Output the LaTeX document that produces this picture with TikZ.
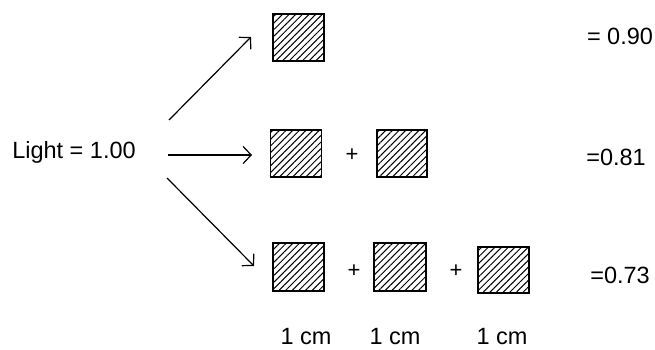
\documentclass[tikz,border=0pt]{standalone}
\usepackage{fontspec}
\setmainfont{Liberation Sans}
\usetikzlibrary{arrows.meta,patterns.meta}
\begin{document}
\begin{tikzpicture}[x=1pt,y=-1pt,
  lbl/.style={inner sep=0pt,font=\fontsize{23.5}{26}\selectfont},
  plus/.style={inner sep=0pt,font=\fontsize{22}{24}\selectfont},
  slab/.style={draw,line width=1.7pt,inner sep=0pt,minimum width=51pt,minimum height=47pt,
    pattern={Lines[angle=45,distance=4.7pt,line width=1pt]}},
  arr/.style={line width=1.2pt,-{Straight Barb[length=8pt,width=17pt,line width=1.2pt]}}]
\useasboundingbox (0,0) rectangle (655,350);

% incoming light
\node[lbl] (light) at (74,152) {Light = 1.00};

% one slab
\node[slab] (b11) at (298.5,37.5) {};
\node[lbl] (v1) at (620,36) {= 0.90};

% two slabs
\node[slab] (b21) at (296,153.5) {};
\node[plus] (p21) at (352,155) {+};
\node[slab,minimum width=50pt] (b22) at (402,153.5) {};
\node[lbl] (v2) at (616,157) {=0.81};

% three slabs
\node[slab,minimum height=48pt] (b31) at (298.5,267) {};
\node[plus] (p31) at (354,271) {+};
\node[slab,minimum width=52pt,minimum height=48pt] (b32) at (400,267) {};
\node[plus] (p32) at (456,271) {+};
\node[slab,minimum height=46pt] (b33) at (503.5,270) {};
\node[lbl] (v3) at (620,275) {=0.73};

% thickness labels
\node[lbl] (t1) at (306,337) {1 cm};
\node[lbl] (t2) at (395,337) {1 cm};
\node[lbl] (t3) at (502,337) {1 cm};

% arrows
\coordinate (s1) at (169,120);
\coordinate (e1) at (251,37);
\coordinate (s2) at (168,155);
\coordinate (e2) at (252,155);
\coordinate (s3) at (167,178);
\coordinate (e3) at (254,266);
\draw[arr] (s1) -- (e1);
\draw[arr] (s2) -- (e2);
\draw[arr] (s3) -- (e3);
\end{tikzpicture}
\end{document}
